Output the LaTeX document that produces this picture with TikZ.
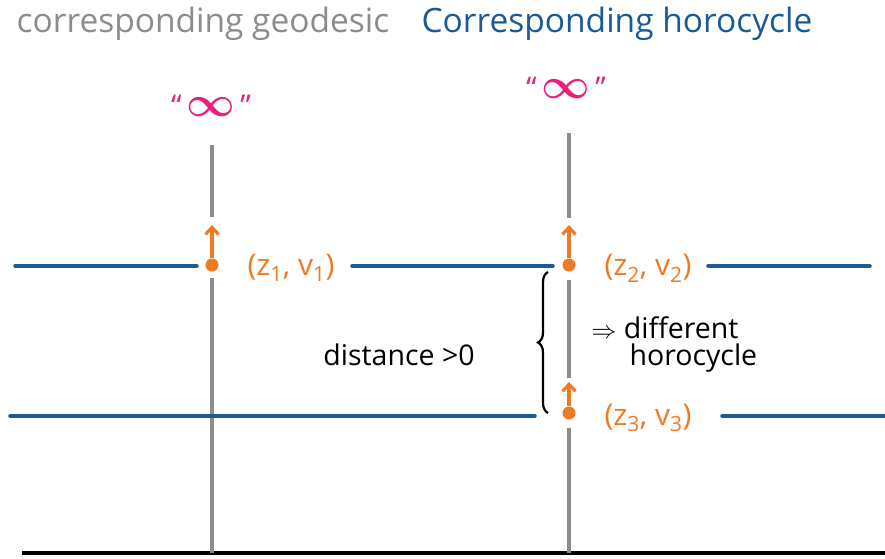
\documentclass[tikz,border=0pt]{standalone}
\usepackage{amsmath}
\usepackage{graphicx}
\usepackage{fontspec}
\setmainfont{Open Sans}
\usetikzlibrary{arrows.meta, decorations.pathreplacing}
\definecolor{geo}{HTML}{8C8C8C}
\definecolor{horo}{HTML}{1B5A94}
\definecolor{vec}{HTML}{F07A22}
\definecolor{inf}{HTML}{E8207C}
\newcommand{\biginf}{\scalebox{1.7}{$\boldsymbol{\infty}$}}

\begin{document}
\begin{tikzpicture}[x=1pt, y=-1pt,
    geoline/.style={draw=geo, line width=3.5pt},
    horoline/.style={draw=horo, line width=3.5pt, line cap=round},
    dot/.style={circle, fill=vec, minimum size=13pt, inner sep=0pt},
    vecarr/.style={-{Straight Barb[length=7pt, width=13pt, line width=3.2pt]}, draw=vec, line width=3.6pt},
    vlabel/.style={text=vec, font=\fontsize{30}{34}\selectfont},
    title/.style={font=\fontsize{33.5}{38}\selectfont},
    note/.style={font=\fontsize{28.5}{32}\selectfont},
    infty/.style={text=inf, font=\fontsize{30}{34}\selectfont}]
  \useasboundingbox (0,0) rectangle (885,558);

  % titles
  \node[title, text=geo] (tg) at (203,24) {corresponding geodesic};
  \node[title, text=horo] (th) at (617,24) {Corresponding horocycle};

  % ground line
  \coordinate (b0) at (22,553);
  \coordinate (b1) at (885,553);
  \draw[line width=4.5pt] (b0) -- (b1);

  % geodesics
  \coordinate (g1t) at (212,145);
  \coordinate (g1a) at (212,217);
  \coordinate (g1b) at (212,278);
  \coordinate (g1e) at (212,553);
  \coordinate (g2t) at (569,133);
  \coordinate (g2a) at (569,218);
  \coordinate (g2b) at (569,280);
  \coordinate (g2c) at (569,378);
  \coordinate (g2d) at (569,428);
  \coordinate (g2e) at (569,553);
  \draw[geoline] (g1t) -- (g1a);
  \draw[geoline] (g1b) -- (g1e);
  \draw[geoline] (g2t) -- (g2a);
  \draw[geoline] (g2b) -- (g2c);
  \draw[geoline] (g2d) -- (g2e);

  \node[infty] (i1) at (211,106) {``\,\biginf\,''};
  \node[infty] (i2) at (566,88) {``\,\biginf\,''};

  % horocycles
  \coordinate (h1a) at (15,266);
  \coordinate (h1b) at (197,266);
  \coordinate (h1c) at (352,266);
  \coordinate (h1d) at (553,266);
  \coordinate (h1e) at (708,266);
  \coordinate (h1f) at (870,266);
  \coordinate (h2a) at (10,416);
  \coordinate (h2b) at (535,416);
  \coordinate (h2c) at (722,416);
  \coordinate (h2d) at (885,416);
  \draw[horoline] (h1a) -- (h1b);
  \draw[horoline] (h1c) -- (h1d);
  \draw[horoline] (h1e) -- (h1f);
  \draw[horoline] (h2a) -- (h2b);
  \draw[horoline] (h2c) -- (h2d);

  % points with tangent vectors
  \node[dot] (p1) at (212,265) {};
  \node[dot] (p2) at (569,265) {};
  \node[dot] (p3) at (569,413) {};
  \coordinate (v1) at (212,225);
  \coordinate (v2) at (569,225);
  \coordinate (v3) at (569,382);
  \draw[vecarr] (p1) -- (v1);
  \draw[vecarr] (p2) -- (v2);
  \draw[vecarr] (p3) -- (v3);

  \node[vlabel] (l1) at (291,268) {(z\textsubscript{1}, v\textsubscript{1})};
  \node[vlabel] (l2) at (648,268) {(z\textsubscript{2}, v\textsubscript{2})};
  \node[vlabel] (l3) at (648,418) {(z\textsubscript{3}, v\textsubscript{3})};

  % distance brace
  \coordinate (bb) at (548,413);
  \coordinate (bt) at (548,272);
  \draw[decorate, decoration={brace, amplitude=10pt}, line width=2.2pt] (bb) -- (bt);
  \node[note] (dist) at (399,355) {distance >0};
  \node[note, anchor=west] (diff) at (588,328) {$\Rightarrow$ different};
  \node[note, anchor=west] (horo) at (626,358) {horocycle};
\end{tikzpicture}
\end{document}
